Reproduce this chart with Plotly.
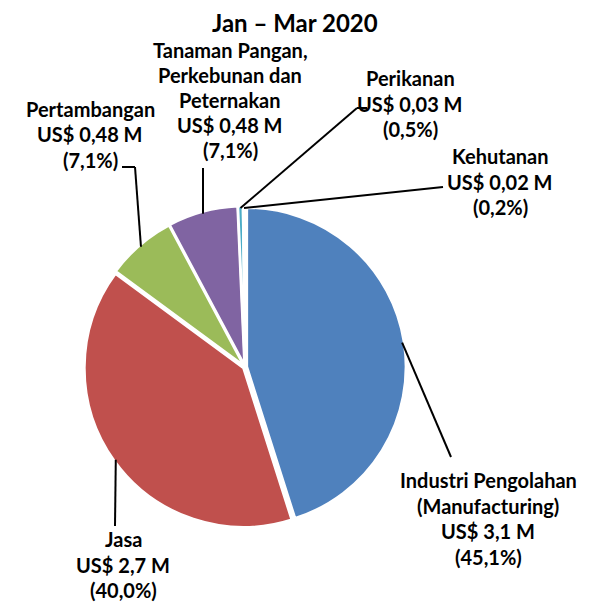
import math
import plotly.graph_objects as go

# ---- data ----
sectors = ["Industri Pengolahan (Manufacturing)", "Jasa", "Pertambangan",
           "Tanaman Pangan, Perkebunan dan Peternakan", "Perikanan", "Kehutanan"]
shares_pct = [45.1, 40.0, 7.1, 7.1, 0.5, 0.2]
usd_labels = ["US$ 3,1 M", "US$ 2,7 M", "US$ 0,48 M", "US$ 0,48 M", "US$ 0,03 M", "US$ 0,02 M"]
pct_labels = ["(45,1%)", "(40,0%)", "(7,1%)", "(7,1%)", "(0,5%)", "(0,2%)"]
name_lines = [["Industri Pengolahan", "(Manufacturing)"], ["Jasa"], ["Pertambangan"],
              ["Tanaman Pangan,", "Perkebunan dan", "Peternakan"], ["Perikanan"], ["Kehutanan"]]
colors = ["#4F81BD", "#C0504D", "#9BBB59", "#8064A2", "#4BACC6", "#F79646"]
title_text = "Jan \u2013 Mar 2020"

# ---- layout geometry (window pixels) ----
OFF = 8                      # default page body margin
W, H = 607 - OFF, 605 - OFF  # figure size that fits the window
CX, CY, R = 245, 367, 159
PULL = 0.012
FONT = "Lato, 'Open Sans', sans-serif"

def px(x):
    return (x - OFF) / W

def py(y):
    return 1 - (y - OFF) / H

half = R * (1 + PULL)

fig = go.Figure(go.Pie(
    labels=sectors, values=shares_pct, sort=False, direction="clockwise", rotation=0,
    marker=dict(colors=colors, line=dict(color="white", width=2.5)),
    pull=[PULL] * len(shares_pct), textinfo="none", hoverinfo="label+percent",
    domain=dict(x=[px(CX - half), px(CX + half)], y=[py(CY + half), py(CY - half)]),
))

# label block positions: (center x, first line center y, line spacing)
label_pos = [(488, 480, 25.5), (123, 539, 25.5), (90, 109, 25.5),
             (230, 50, 25.0), (410, 78, 25.5), (500, 156, 25.5)]
# leader line elbows (pixel points from label side toward the pie)
elbows = [
    [(451, 457)],
    [(115, 526)],
    [(122, 167), (135, 167)],
    [(203, 168)],
    [(367, 108), (357, 108)],
    [(443, 187)],
]

annotations = [dict(text="<b>%s</b>" % title_text, x=px(295), y=py(23), xref="paper", yref="paper",
                    showarrow=False, xanchor="center", yanchor="middle", borderpad=0,
                    font=dict(family=FONT, size=24, color="black"))]
shapes = []
total = sum(shares_pct)
cum = 0.0
for i, v in enumerate(shares_pct):
    mid = (cum + v / 2) / total * 2 * math.pi
    cum += v
    ax = CX + R * math.sin(mid)
    ay = CY - R * math.cos(mid)
    lines = name_lines[i] + [usd_labels[i], pct_labels[i]]
    lx, ly, lh = label_pos[i]
    for k, t in enumerate(lines):
        annotations.append(dict(text="<b>%s</b>" % t, x=px(lx), y=py(ly + k * lh),
                                xref="paper", yref="paper", showarrow=False,
                                xanchor="center", yanchor="middle", borderpad=0,
                                font=dict(family=FONT, size=20, color="black")))
    pts = elbows[i] + [(ax, ay)]
    for (x0, y0), (x1, y1) in zip(pts[:-1], pts[1:]):
        shapes.append(dict(type="line", xref="paper", yref="paper",
                           x0=px(x0), y0=py(y0), x1=px(x1), y1=py(y1),
                           line=dict(color="black", width=2)))

fig.update_layout(width=W, height=H, margin=dict(l=0, r=0, t=0, b=0),
                  paper_bgcolor="white", plot_bgcolor="white", showlegend=False,
                  annotations=annotations, shapes=shapes)
fig.write_html("out.html")
